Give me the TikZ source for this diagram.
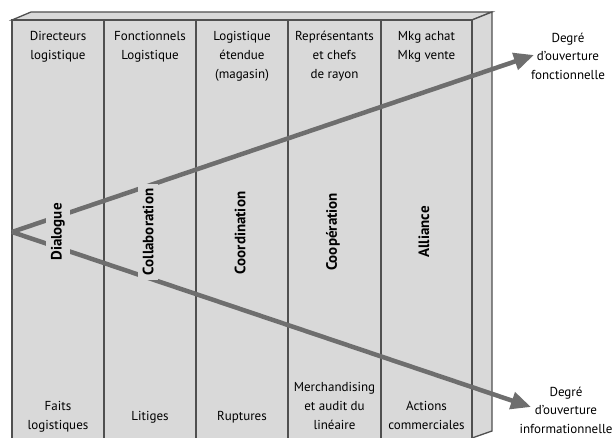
\documentclass[tikz,border=0pt]{standalone}
\usepackage{fontspec}
\setmainfont{PT Sans}
\usetikzlibrary{arrows.meta}
\definecolor{boxfill}{HTML}{D9D9D9}
\definecolor{edgecol}{HTML}{505050}
\definecolor{arrcol}{HTML}{6E6E6E}
\begin{document}
\begin{tikzpicture}[x=1pt,y=-1pt,
  face/.style={fill=boxfill,draw=edgecol,line width=1.3pt,line join=miter},
  divider/.style={draw=edgecol,line width=1.3pt},
  toptxt/.style={anchor=north,align=center,inner sep=0pt,font=\fontsize{13}{19}\selectfont},
  bottxt/.style={anchor=south,align=center,inner sep=0pt,font=\fontsize{13}{19}\selectfont},
  vlabel/.style={rotate=90,fill=boxfill,inner sep=5pt,font=\fontsize{15}{17}\selectfont\bfseries},
  sidetxt/.style={align=center,inner sep=0pt,font=\fontsize{13}{18.5}\selectfont},
  bigarrow/.style={draw=arrcol,line width=4.5pt,-{Triangle[length=20pt,width=17pt]}}
]
\useasboundingbox (0,0) rectangle (614,438);
\fill[white] (0,0) rectangle (614,438);
% 3D box
\draw[face] (12,20) -- (31,12) -- (492,12) -- (472,20) -- cycle;
\draw[face] (472,20) -- (492,12) -- (492,431) -- (472,438) -- cycle;
\draw[face] (12,20) rectangle (472,441);
\foreach \x in {104,196,288,381} \draw[divider] (\x,20) -- (\x,441);
% top texts
\node[toptxt] (t1) at (58,27.5) {\strut Directeurs\\logistique};
\node[toptxt] (t2) at (150,27.5) {\strut Fonctionnels\\Logistique};
\node[toptxt] (t3) at (242,27.5) {\strut Logistique\\étendue\\(magasin)};
\node[toptxt] (t4) at (334.5,27.5) {\strut Représentants\\et chefs\\de rayon};
\node[toptxt] (t5) at (426.5,27.5) {\strut Mkg achat\\Mkg vente};
% bottom texts
\node[bottxt] (b1) at (58,435.5) {Faits\\logistiques\strut};
\node[bottxt] (b2) at (150,426.5) {Litiges\strut};
\node[bottxt] (b3) at (242,426.5) {Ruptures\strut};
\node[bottxt] (b4) at (334.5,435.5) {Merchandising\\et audit du\\linéaire\strut};
\node[bottxt] (b5) at (426.5,435.5) {Actions\\commerciales\strut};
% side labels
\node[sidetxt,anchor=north] (sf) at (568,29) {\strut Degré\\d’ouverture\\fonctionnelle};
\node[sidetxt,anchor=south] (si) at (566,439) {Degré\\d’ouverture\\informationnelle\strut};
% arrows
\coordinate (apex) at (12,232);
\coordinate (tipF) at (534,55);
\coordinate (tipI) at (531,407);
\draw[bigarrow] (apex) -- (tipF);
\draw[bigarrow] (apex) -- (tipI);
% vertical labels
\node[vlabel] (l1) at (58,232) {Dialogue};
\node[vlabel] (l2) at (148,232) {Collaboration};
\node[vlabel] (l3) at (240,233) {Coordination};
\node[vlabel] (l4) at (333,232) {Coopération};
\node[vlabel] (l5) at (424,232) {Alliance};
\end{tikzpicture}
\end{document}
